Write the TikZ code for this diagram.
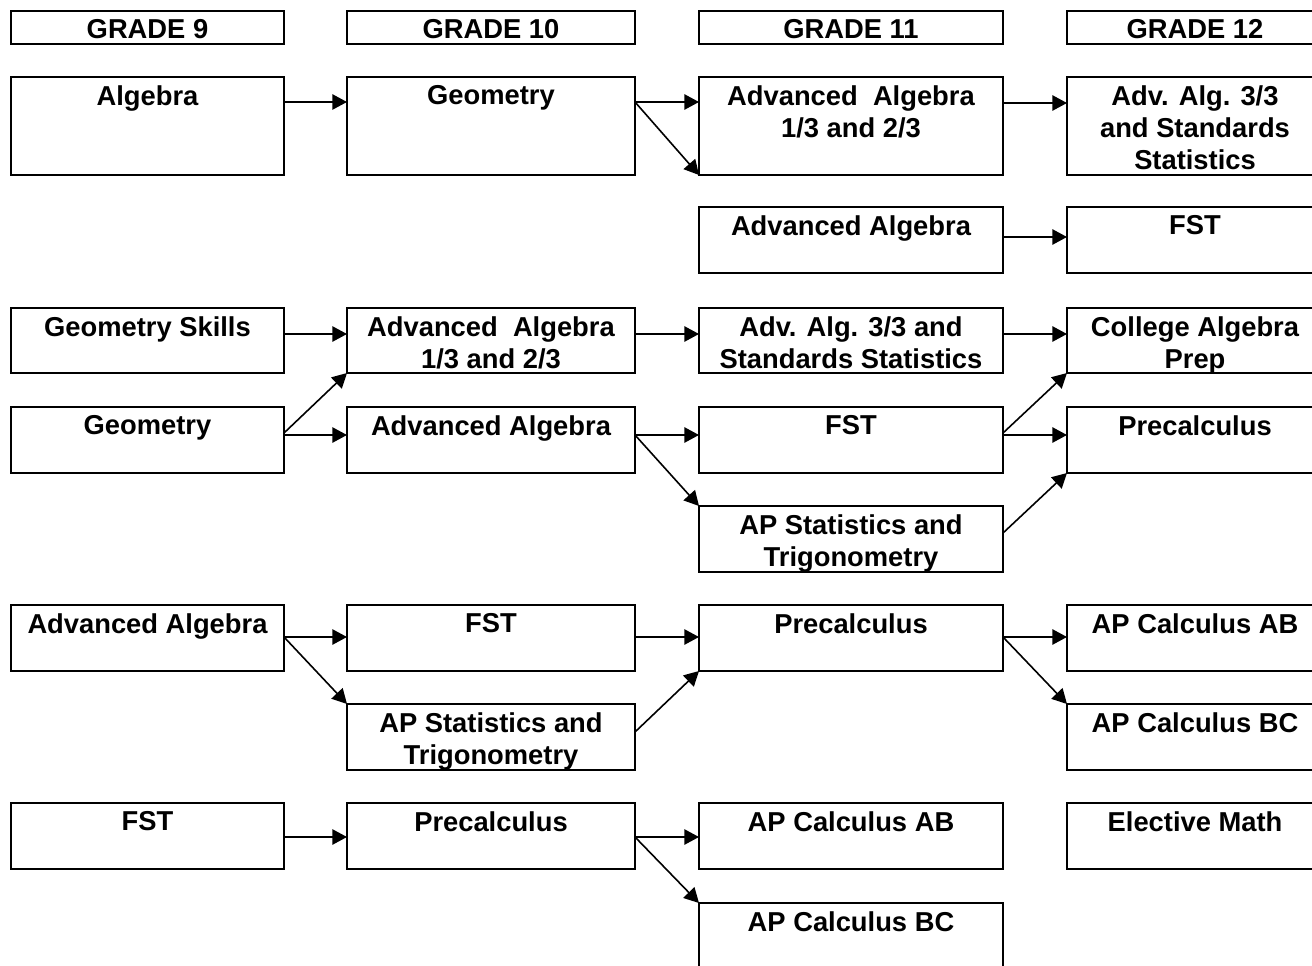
\documentclass[tikz,border=0pt]{standalone}
\usepackage{fontspec}
\setmainfont{Liberation Sans}
\usetikzlibrary{calc,arrows.meta}
\tikzset{
  boxst/.style={draw=black, line width=1.6pt, rectangle, inner sep=0pt, outer sep=0pt},
  txtst/.style={inner sep=0pt, align=center, font=\fontsize{20.5pt}{24pt}\selectfont\bfseries},
  arr/.style={draw=black, line width=1.2pt, -{Triangle[length=11pt,width=11.5pt]}},
}
\newcommand\crsbox[6]{%
  \node[boxst, minimum width={(#4-#2)*0.75pt}, minimum height={(#5-#3)*0.75pt}] (#1) at ({(#2+#4)/2},{(#3+#5)/2}) {};
  \node[txtst, anchor=north] (#1t) at ($(#1.north)+(0,8)$) {#6};
}
\newcommand\harr[3]{\draw[arr] ($(#1.north east)+(0,#3)$) -- ($(#2.north west)+(0,#3)$);}
\begin{document}
\begin{tikzpicture}[x=0.75pt,y=-0.75pt]
\useasboundingbox (0,0) rectangle (1312,966);
\fill[white] (0,0) rectangle (1312,966);
\clip (0,0) rectangle (1312,966);
% headers
\crsbox{gr9}{11}{11}{284}{44}{GRADE 9}
\crsbox{gr10}{347}{11}{635}{44}{GRADE 10}
\crsbox{gr11}{699}{11}{1003}{44}{GRADE 11}
\crsbox{gr12}{1067}{11}{1323}{44}{GRADE 12}
% row A
\crsbox{ra1}{11}{77}{284}{175}{Algebra}
\crsbox{ra2}{347}{77}{635}{175}{Geometry}
\crsbox{ra3}{699}{77}{1003}{175}{Advanced~ Algebra\\1/3 and 2/3}
\crsbox{ra4}{1067}{77}{1323}{175}{Adv. Alg. 3/3\\and Standards\\Statistics}
% row B
\crsbox{rb3}{699}{207}{1003}{273}{Advanced Algebra}
\crsbox{rb4}{1067}{207}{1323}{273}{FST}
% row C
\crsbox{rc1}{11}{308}{284}{373}{Geometry Skills}
\crsbox{rc2}{347}{308}{635}{373}{Advanced~ Algebra\\1/3 and 2/3}
\crsbox{rc3}{699}{308}{1003}{373}{Adv. Alg. 3/3 and\\Standards Statistics}
\crsbox{rc4}{1067}{308}{1323}{373}{College Algebra\\Prep}
% row D
\crsbox{rd1}{11}{407}{284}{473}{Geometry}
\crsbox{rd2}{347}{407}{635}{473}{Advanced Algebra}
\crsbox{rd3}{699}{407}{1003}{473}{FST}
\crsbox{rd4}{1067}{407}{1323}{473}{Precalculus}
% row E
\crsbox{re3}{699}{506}{1003}{572}{AP Statistics and\\Trigonometry}
% row F
\crsbox{rf1}{11}{605}{284}{671}{Advanced Algebra}
\crsbox{rf2}{347}{605}{635}{671}{FST}
\crsbox{rf3}{699}{605}{1003}{671}{Precalculus}
\crsbox{rf4}{1067}{605}{1323}{671}{AP Calculus AB}
% row G
\crsbox{rg2}{347}{704}{635}{770}{AP Statistics and\\Trigonometry}
\crsbox{rg4}{1067}{704}{1323}{770}{AP Calculus BC}
% row H
\crsbox{rh1}{11}{803}{284}{869}{FST}
\crsbox{rh2}{347}{803}{635}{869}{Precalculus}
\crsbox{rh3}{699}{803}{1003}{869}{AP Calculus AB}
\crsbox{rh4}{1067}{803}{1323}{869}{Elective Math}
% row I
\crsbox{ri3}{699}{903}{1003}{969}{AP Calculus BC}
% arrows row A
\harr{ra1}{ra2}{25}
\harr{ra2}{ra3}{25}
\harr{ra3}{ra4}{26}
\draw[arr] ($(ra2.north east)+(0,25)$) -- (ra3.south west);
% row B
\harr{rb3}{rb4}{30}
% row C
\harr{rc1}{rc2}{26}
\harr{rc2}{rc3}{26}
\harr{rc3}{rc4}{26}
% row D
\harr{rd1}{rd2}{28}
\harr{rd2}{rd3}{28}
\harr{rd3}{rd4}{28}
\draw[arr] ($(rd1.north east)+(0,26)$) -- (rc2.south west);
\draw[arr] ($(rd2.north east)+(0,28)$) -- (re3.north west);
\draw[arr] ($(rd3.north east)+(0,26)$) -- (rc4.south west);
\draw[arr] ($(re3.north east)+(0,27)$) -- (rd4.south west);
% row F
\harr{rf1}{rf2}{32}
\harr{rf2}{rf3}{32}
\harr{rf3}{rf4}{32}
\draw[arr] ($(rf1.north east)+(0,32)$) -- (rg2.north west);
\draw[arr] ($(rg2.north east)+(0,28)$) -- (rf3.south west);
\draw[arr] ($(rf3.north east)+(0,32)$) -- (rg4.north west);
% row H
\harr{rh1}{rh2}{34}
\harr{rh2}{rh3}{34}
\draw[arr] ($(rh2.north east)+(0,34)$) -- (ri3.north west);
\end{tikzpicture}
\end{document}
